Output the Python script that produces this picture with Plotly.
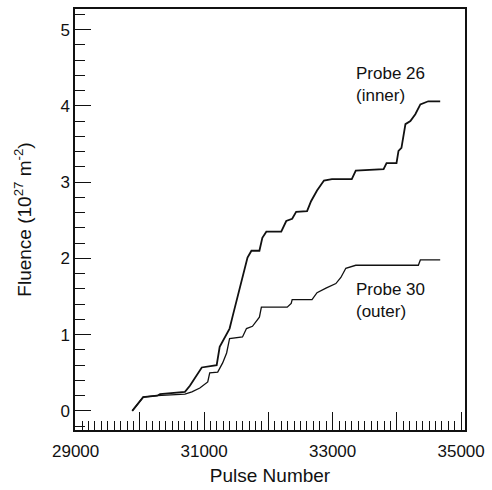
import plotly.graph_objects as go

# Probe 26 (inner)
inner_x = [29881, 29959, 30051, 30268, 30314, 30701, 30778, 30963, 31195, 31242,
           31396, 31443, 31520, 31597, 31675, 31736, 31860, 31906, 31968, 32200,
           32278, 32370, 32432, 32602, 32664, 32757, 32865, 32989, 33298, 33360,
           33793, 33839, 33994, 34025, 34071, 34133, 34210, 34287, 34365, 34488, 34674]
inner_y = [0.00, 0.09, 0.18, 0.20, 0.22, 0.25, 0.33, 0.57, 0.60, 0.84,
           1.08, 1.24, 1.49, 1.75, 2.01, 2.10, 2.10, 2.27, 2.35, 2.35,
           2.49, 2.52, 2.61, 2.62, 2.75, 2.89, 3.02, 3.04, 3.04, 3.15,
           3.17, 3.25, 3.25, 3.41, 3.45, 3.76, 3.80, 3.89, 4.02, 4.06, 4.06]

# Probe 30 (outer)
outer_x = [29881, 29959, 30051, 30268, 30701, 30809, 30933, 31056, 31087, 31211,
           31288, 31350, 31396, 31597, 31659, 31752, 31829, 31860, 31891, 32293,
           32355, 32370, 32679, 32757, 32896, 33050, 33128, 33205, 33360, 34334,
           34365, 34674]
outer_y = [0.00, 0.08, 0.18, 0.20, 0.22, 0.25, 0.30, 0.38, 0.50, 0.51,
           0.63, 0.76, 0.95, 0.97, 1.08, 1.11, 1.19, 1.23, 1.36, 1.36,
           1.41, 1.46, 1.46, 1.55, 1.61, 1.67, 1.75, 1.87, 1.91, 1.91,
           1.98, 1.98]

x_tickvals = [29000, 30000, 31000, 32000, 33000, 34000, 35000]
x_ticktext = ["29000", "", "31000", "", "33000", "", "35000"]
y_tickvals = [0, 1, 2, 3, 4, 5]
y_ticktext = ["0", "1", "2", "3", "4", "5"]

FONT = "Liberation Sans, Arial, sans-serif"

fig = go.Figure()
fig.add_trace(go.Scatter(x=inner_x, y=inner_y, mode="lines",
                         line=dict(color="#111111", width=1.8), showlegend=False))
fig.add_trace(go.Scatter(x=outer_x, y=outer_y, mode="lines",
                         line=dict(color="#111111", width=1.3), showlegend=False))

fig.add_annotation(x=33329, y=4.28, xref="x", yref="y", text="Probe 26<br>(inner)",
                   showarrow=False, xanchor="left", yanchor="middle", align="left",
                   font=dict(family=FONT, size=17, color="#111111"))
fig.add_annotation(x=33329, y=1.45, xref="x", yref="y", text="Probe 30<br>(outer)",
                   showarrow=False, xanchor="left", yanchor="middle", align="left",
                   font=dict(family=FONT, size=17, color="#111111"))

fig.update_layout(
    width=492, height=490,
    margin=dict(l=75, r=25, t=7, b=60),
    paper_bgcolor="white", plot_bgcolor="white",
    font=dict(family=FONT, size=17, color="#111111"),
    xaxis=dict(range=[28990, 35060], tickmode="array", tickvals=x_tickvals, ticktext=x_ticktext,
               ticks="inside", ticklen=18, tickwidth=1.2, tickcolor="#111111",
               ticklabelstandoff=5,
               minor=dict(ticks="inside", ticklen=9, tickwidth=1, tickcolor="#111111",
                          dtick=100, tick0=29000, showgrid=False),
               showline=True, linecolor="#111111", linewidth=1.5, mirror=True,
               showgrid=False, zeroline=False,
               title=dict(text="Pulse Number", font=dict(size=19), standoff=9)),
    yaxis=dict(range=[-0.25, 5.27], tickmode="array", tickvals=y_tickvals, ticktext=y_ticktext,
               ticks="inside", ticklen=16, tickwidth=1.2, tickcolor="#111111",
               minor=dict(ticks="inside", ticklen=10, tickwidth=1, tickcolor="#111111",
                          dtick=0.2, tick0=0, showgrid=False),
               showline=True, linecolor="#111111", linewidth=1.5, mirror=True,
               showgrid=False, zeroline=False,
               title=dict(text="Fluence (10<sup>27</sup> m<sup>-2</sup>)", font=dict(size=19), standoff=24)),
)

fig.write_html("out.html")
